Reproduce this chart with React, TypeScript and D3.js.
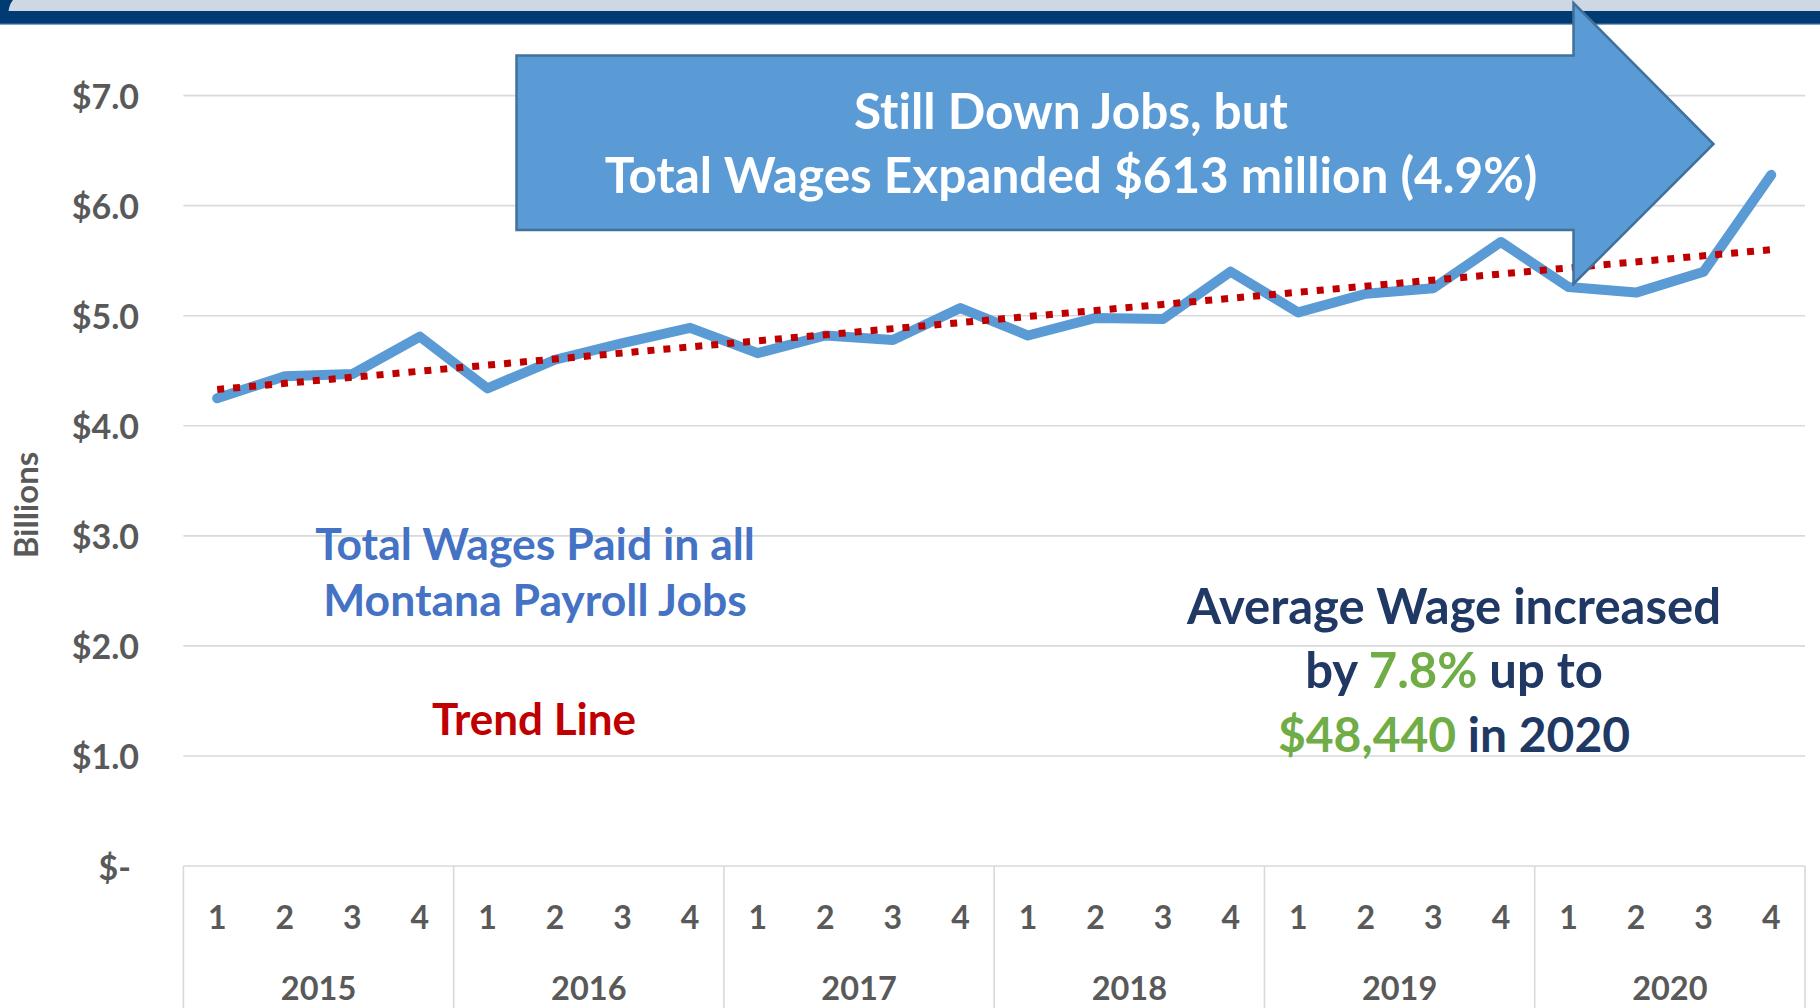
import React from "react";
import * as d3 from "d3";

const years = ["2015", "2016", "2017", "2018", "2019", "2020"];
const quarters = ["1", "2", "3", "4"];
const wages = [
  4.25, 4.45, 4.47, 4.81,
  4.34, 4.6, 4.75, 4.89,
  4.66, 4.82, 4.78, 5.07,
  4.82, 4.98, 4.97, 5.4,
  5.03, 5.2, 5.25, 5.67,
  5.26, 5.21, 5.4, 6.28,
];
const trendEnds = [4.33, 5.6];
const yTicks = [0, 1, 2, 3, 4, 5, 6, 7];

const W = 1820;
const H = 1008;
const FONT = "Lato, 'Open Sans', sans-serif";
const GRAY = "#595959";

export default function App() {
  const left = 183.4;
  const right = 1805;
  const y = d3.scaleLinear().domain([0, 7]).range([866, 95.6]);
  const idx = d3.range(wages.length);
  const x = d3.scaleBand<number>().domain(idx).range([left, right]).padding(0);
  const cx = (i: number) => (x(i) as number) + x.bandwidth() / 2;
  const xYear = d3.scaleBand<string>().domain(years).range([left, right]).padding(0);

  const line = d3
    .line<number>()
    .x((_, i) => cx(i))
    .y((d) => y(d));
  const trendLine = d3
    .line<number>()
    .x((_, i) => cx(i === 0 ? 0 : wages.length - 1))
    .y((d) => y(d));

  const fmt = (d: number) => (d === 0 ? "$-" : "$" + d.toFixed(1));

  // arrow geometry
  const ax0 = 516.5, ay0 = 55.5, ay1 = 230, anotch = 1573.5, ahTop = 3, ahBot = 284, atipX = 1713.5, atipY = 144;
  const arrowPath = `M${ax0},${ay0} L${anotch},${ay0} L${anotch},${ahTop} L${atipX},${atipY} L${anotch},${ahBot} L${anotch},${ay1} L${ax0},${ay1} Z`;

  return (
    <div style={{ position: "absolute", left: 0, top: 0 }}>
      <svg width={W} height={H} style={{ display: "block", background: "#fff", fontVariantLigatures: "none" }}>
        {/* banner */}
        <rect x={0} y={0} width={W} height={11.5} fill="#cdd8e4" />
        <rect x={0} y={11} width={W} height={13} fill="#003c73" />
        <rect x={0} y={23.5} width={W} height={1.2} fill="#4f7aa6" />
        <path d="M0,0 L13,0 Q9,5 8.5,11.5 L0,11.5 Z" fill="#003c73" />

        {/* gridlines */}
        {yTicks.filter((t) => t > 0).map((t) => (
          <line key={t} x1={left} x2={right} y1={y(t)} y2={y(t)} stroke="#d9d9d9" strokeWidth={1.6} />
        ))}
        {/* category axis box */}
        <line x1={left} x2={right} y1={y(0)} y2={y(0)} stroke="#d9d9d9" strokeWidth={1.6} />
        {years.map((yr) => (
          <line key={yr} x1={xYear(yr)} x2={xYear(yr)} y1={y(0)} y2={H} stroke="#d9d9d9" strokeWidth={1.6} />
        ))}
        <line x1={right} x2={right} y1={y(0)} y2={H} stroke="#d9d9d9" strokeWidth={1.6} />

        {/* y tick labels */}
        {yTicks.map((t) => (
          <text
            key={t}
            x={t === 0 ? 131 : 139}
            y={y(t)}
            dominantBaseline="central"
            textAnchor="end"
            fontFamily={FONT}
            fontWeight={700}
            fontSize={34}
            fill={GRAY}
          >
            {fmt(t)}
          </text>
        ))}
        <text
          transform={`translate(25,505) rotate(-90)`}
          textAnchor="middle"
          dominantBaseline="central"
          fontFamily={FONT}
          fontWeight={700}
          fontSize={33}
          fill={GRAY}
        >
          Billions
        </text>

        {/* quarter labels */}
        {idx.map((i) => (
          <text key={i} x={cx(i)} y={916} textAnchor="middle" dominantBaseline="central" fontFamily={FONT} fontWeight={700} fontSize={32} fill={GRAY}>
            {quarters[i % 4]}
          </text>
        ))}
        {years.map((yr) => (
          <text key={yr} x={(xYear(yr) as number) + xYear.bandwidth() / 2} y={987} textAnchor="middle" dominantBaseline="central" fontFamily={FONT} fontWeight={700} fontSize={32.5} fill={GRAY}>
            {yr}
          </text>
        ))}

        {/* series */}
        <path d={line(wages) || ""} fill="none" stroke="#5b9bd5" strokeWidth={10} strokeLinejoin="round" strokeLinecap="round" />
        <path d={trendLine(trendEnds) || ""} fill="none" stroke="#c00000" strokeWidth={7} strokeDasharray="7 9" />

        {/* arrow */}
        <path d={arrowPath} fill="#5b9bd5" stroke="#41719c" strokeWidth={2.5} />
        <text x={1071} y={129} textAnchor="middle" fontFamily={FONT} fontWeight={700} fontSize={49.5} fill="#fff">
          Still Down Jobs, but
        </text>
        <text x={1071} y={193} textAnchor="middle" fontFamily={FONT} fontWeight={700} fontSize={49.5} fill="#fff">
          Total Wages Expanded $613 million (4.9%)
        </text>

        {/* annotations */}
        <text x={535} y={560} textAnchor="middle" fontFamily={FONT} fontWeight={700} fontSize={44.5} fill="#4472c4">
          Total Wages Paid in all
        </text>
        <text x={535} y={616} textAnchor="middle" fontFamily={FONT} fontWeight={700} fontSize={44.5} fill="#4472c4">
          Montana Payroll Jobs
        </text>
        <text x={534} y={735} textAnchor="middle" fontFamily={FONT} fontWeight={700} fontSize={44} fill="#c00000">
          Trend Line
        </text>

        <text x={1454} y={624} textAnchor="middle" fontFamily={FONT} fontWeight={700} fontSize={49} fill="#203864">
          Average Wage increased
        </text>
        <text x={1454} y={688} textAnchor="middle" fontFamily={FONT} fontWeight={700} fontSize={49} fill="#203864">
          by <tspan fill="#70ad47">7.8%</tspan> up to
        </text>
        <text x={1454} y={752} textAnchor="middle" fontFamily={FONT} fontWeight={700} fontSize={48} fill="#203864">
          <tspan fill="#70ad47">$48,440</tspan> in 2020
        </text>
      </svg>
    </div>
  );
}
